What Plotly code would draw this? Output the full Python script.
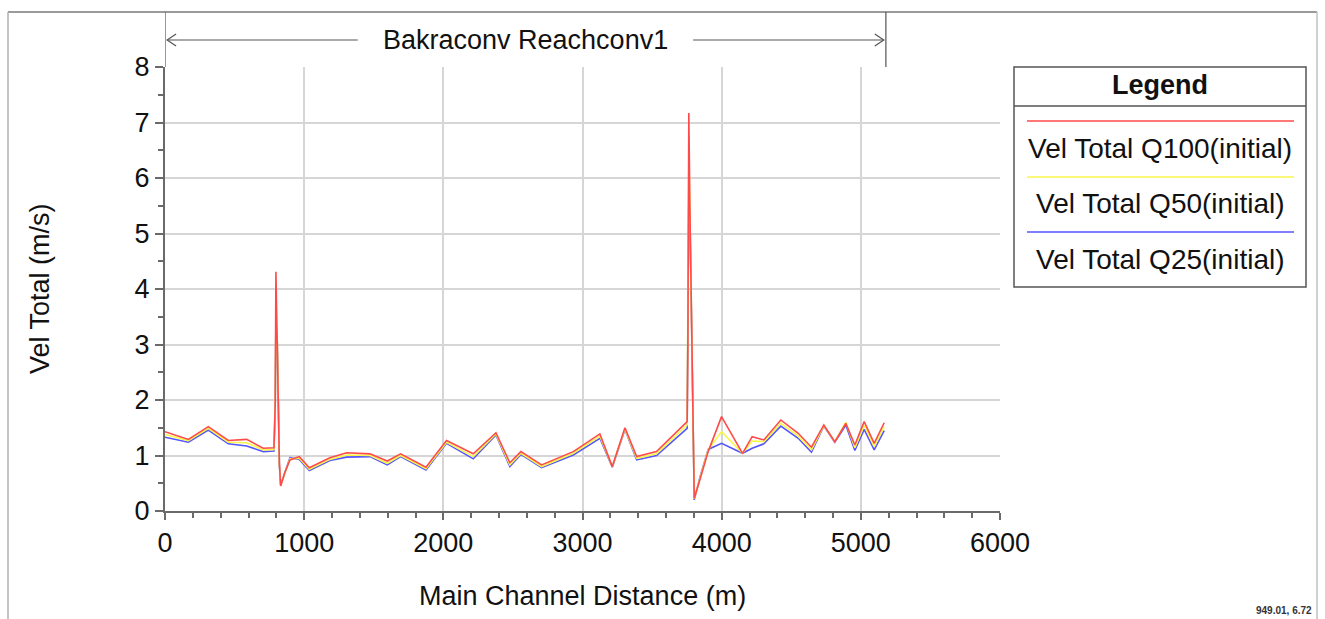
import plotly.graph_objects as go

# ---------------- data ----------------
distance = [0, 168, 311, 455, 587, 706, 783, 792, 797, 807, 812, 818, 822, 831, 862, 898,
            965, 1037, 1185, 1305, 1473, 1597, 1693, 1875, 2023, 2215, 2378, 2478, 2557,
            2706, 2934, 3125, 3214, 3305, 3389, 3532, 3752, 3757, 3764, 3772, 3778, 3785,
            3791, 3796, 3803, 3843, 3903, 3999, 4150, 4219, 4303, 4425, 4550, 4645, 4734,
            4813, 4892, 4957, 5024, 5096, 5168]

vel_q100 = [1.43, 1.29, 1.52, 1.27, 1.29, 1.13, 1.14, 1.92, 4.31, 3.10, 2.35, 1.58, 0.85, 0.45,
            0.70, 0.92, 0.98, 0.78, 0.96, 1.05, 1.03, 0.90, 1.03, 0.79, 1.27, 1.03, 1.41, 0.87,
            1.07, 0.83, 1.07, 1.39, 0.80, 1.50, 0.98, 1.07, 1.61, 3.00, 7.17, 5.40, 4.25, 3.10,
            1.96, 0.80, 0.23, 0.56, 1.07, 1.70, 1.04, 1.34, 1.28, 1.64, 1.40, 1.15, 1.55, 1.25,
            1.58, 1.19, 1.61, 1.22, 1.59]

vel_q50 = [1.38, 1.27, 1.49, 1.24, 1.23, 1.10, 1.11, 1.90, 3.50, 3.05, 2.32, 1.56, 0.84, 0.46,
           0.70, 0.94, 0.95, 0.75, 0.93, 1.01, 1.00, 0.86, 1.00, 0.76, 1.24, 0.98, 1.39, 0.83,
           1.04, 0.80, 1.04, 1.35, 0.80, 1.48, 0.95, 1.03, 1.55, 2.99, 6.50, 5.35, 4.23, 3.09,
           1.95, 0.80, 0.22, 0.58, 1.10, 1.43, 1.04, 1.26, 1.25, 1.58, 1.35, 1.10, 1.54, 1.25,
           1.60, 1.14, 1.54, 1.16, 1.52]

vel_q25 = [1.33, 1.24, 1.46, 1.21, 1.17, 1.07, 1.08, 1.88, 3.37, 3.03, 2.29, 1.55, 0.83, 0.47,
           0.70, 0.96, 0.93, 0.73, 0.91, 0.97, 0.98, 0.83, 0.98, 0.74, 1.22, 0.94, 1.37, 0.80,
           1.02, 0.78, 1.01, 1.31, 0.79, 1.47, 0.92, 1.00, 1.49, 2.90, 5.70, 5.33, 4.22, 3.08,
           1.94, 0.80, 0.20, 0.60, 1.11, 1.22, 1.04, 1.13, 1.21, 1.53, 1.31, 1.06, 1.53, 1.24,
           1.55, 1.09, 1.47, 1.10, 1.45]

series_names = ["Vel Total Q100(initial)", "Vel Total Q50(initial)", "Vel Total Q25(initial)"]
series_colors = ["#ff4a4a", "#f7f74a", "#5555ff"]
x_ticks = [0, 1000, 2000, 3000, 4000, 5000, 6000]
y_ticks = [0, 1, 2, 3, 4, 5, 6, 7, 8]
reach_label = "Bakraconv Reachconv1"
cursor_text = "<b>949.01, 6.72</b>"

# ---------------- geometry ----------------
W, H = 1325, 619
PL, PR, PT, PB = 165, 1000, 67, 511
PW, PH = PR - PL, PB - PT


def px(xp):
    return (xp - PL) / PW


def py(yp):
    return (PB - yp) / PH


FONT = "Liberation Sans, Arial, sans-serif"
FS = 27
FS_LEG = 28

fig = go.Figure()
series_vals = [vel_q100, vel_q50, vel_q25]
for name, vals, col in reversed(list(zip(series_names, series_vals, series_colors))):
    fig.add_trace(go.Scatter(x=distance, y=vals, mode="lines", name=name,
                             line=dict(color=col, width=1.6), showlegend=False,
                             hoverinfo="x+y"))

axis_col = "#6a6a6a"
grid_col = "#d6d6d6"
fig.update_xaxes(range=[0, 6000], tickvals=x_ticks, ticks="outside", ticklen=7,
                 tickwidth=1.5, tickcolor=axis_col, showline=True, linecolor=axis_col,
                 linewidth=2, showgrid=True, gridcolor=grid_col, gridwidth=1.5,
                 zeroline=False, tickfont=dict(family=FONT, size=FS, color="#111"),
                 minor=dict(dtick=200, ticks="outside", ticklen=5, tickcolor=axis_col,
                            tickwidth=1.5, showgrid=False))
fig.update_yaxes(range=[0, 8], tickvals=y_ticks, ticks="outside", ticklen=8,
                 tickwidth=1.5, tickcolor=axis_col, showline=True, linecolor=axis_col,
                 linewidth=2, showgrid=True, gridcolor=grid_col, gridwidth=1.5,
                 zeroline=False, tickfont=dict(family=FONT, size=FS, color="#111"),
                 minor=dict(dtick=0.5, ticks="outside", ticklen=5, tickcolor=axis_col,
                            tickwidth=1.5, showgrid=False))

shapes = []
annots = []
frame_col = "#9a9a9a"
# outer frame
shapes.append(dict(type="line", xref="paper", yref="paper", x0=px(8), x1=px(1317),
                   y0=py(12), y1=py(12), line=dict(color=frame_col, width=2)))
shapes.append(dict(type="line", xref="paper", yref="paper", x0=px(8), x1=px(8),
                   y0=py(12), y1=py(640), line=dict(color="#b0b0b0", width=1.5)))
shapes.append(dict(type="line", xref="paper", yref="paper", x0=px(1317), x1=px(1317),
                   y0=py(12), y1=py(640), line=dict(color="#c0c0c0", width=1.5)))

# reach header
reach_start = distance[0]
reach_end = distance[-1] + 12
for xv in (reach_start, reach_end):
    shapes.append(dict(type="line", xref="x", yref="paper", x0=xv, x1=xv,
                       y0=1.0, y1=py(12), line=dict(color="#555555", width=1.2)))
arrow_y = py(40)
mid = (reach_start + reach_end) / 2
gap = 1205
shapes.append(dict(type="line", xref="x", yref="paper", x0=reach_start + 15, x1=mid - gap,
                   y0=arrow_y, y1=arrow_y, line=dict(color="#555555", width=1.2)))
shapes.append(dict(type="line", xref="x", yref="paper", x0=mid + gap, x1=reach_end - 15,
                   y0=arrow_y, y1=arrow_y, line=dict(color="#555555", width=1.2)))
dxp = 9 / PW * 6000
dyp = 6 / PH
shapes.append(dict(type="path", xref="x", yref="paper",
                   path=f"M {reach_start + 15 + dxp},{arrow_y + dyp} L {reach_start + 15},{arrow_y} L {reach_start + 15 + dxp},{arrow_y - dyp}",
                   line=dict(color="#555555", width=1.2)))
shapes.append(dict(type="path", xref="x", yref="paper",
                   path=f"M {reach_end - 15 - dxp},{arrow_y + dyp} L {reach_end - 15},{arrow_y} L {reach_end - 15 - dxp},{arrow_y - dyp}",
                   line=dict(color="#555555", width=1.2)))
annots.append(dict(x=mid, xref="x", y=arrow_y, yref="paper", text=reach_label,
                   showarrow=False, xanchor="center", yanchor="middle",
                   font=dict(family=FONT, size=FS, color="#111")))

# axis titles
annots.append(dict(x=0.5, xref="paper", y=py(596), yref="paper",
                   text="Main Channel Distance (m)", showarrow=False,
                   xanchor="center", yanchor="middle",
                   font=dict(family=FONT, size=FS, color="#111")))
annots.append(dict(x=px(40), xref="paper", y=py(289), yref="paper",
                   text="Vel Total (m/s)", showarrow=False, textangle=-90,
                   xanchor="center", yanchor="middle",
                   font=dict(family=FONT, size=FS, color="#111")))

# custom legend
lx0, lx1, ly0, ly1 = 1014, 1306, 67, 287
shapes.append(dict(type="rect", xref="paper", yref="paper", x0=px(lx0), x1=px(lx1),
                   y0=py(ly1), y1=py(ly0), line=dict(color="#555555", width=1.5),
                   fillcolor="white"))
shapes.append(dict(type="line", xref="paper", yref="paper", x0=px(lx0), x1=px(lx1),
                   y0=py(106), y1=py(106), line=dict(color="#555555", width=1.5)))
annots.append(dict(x=px((lx0 + lx1) / 2), xref="paper", y=py(85), yref="paper",
                   text="<b>Legend</b>", showarrow=False, xanchor="center", yanchor="middle",
                   font=dict(family=FONT, size=FS, color="#111")))
line_ys = [121, 177, 232]
text_ys = [148, 203, 259]
for name, col, ly, ty in zip(series_names, series_colors, line_ys, text_ys):
    shapes.append(dict(type="line", xref="paper", yref="paper", x0=px(1027), x1=px(1294),
                       y0=py(ly), y1=py(ly), line=dict(color=col, width=1.5)))
    annots.append(dict(x=px((lx0 + lx1) / 2), xref="paper", y=py(ty), yref="paper",
                       text=name, showarrow=False, xanchor="center", yanchor="middle",
                       font=dict(family=FONT, size=FS_LEG, color="#111")))

annots.append(dict(x=px(1314), xref="paper", y=py(610), yref="paper", text=cursor_text,
                   showarrow=False, xanchor="right", yanchor="middle",
                   font=dict(family=FONT, size=10, color="#333")))

fig.update_layout(width=W, height=H, margin=dict(l=PL, r=W - PR, t=PT, b=H - PB),
                  paper_bgcolor="white", plot_bgcolor="white", shapes=shapes,
                  annotations=annots, showlegend=False)

fig.write_html("out.html", config={"displayModeBar": False})
